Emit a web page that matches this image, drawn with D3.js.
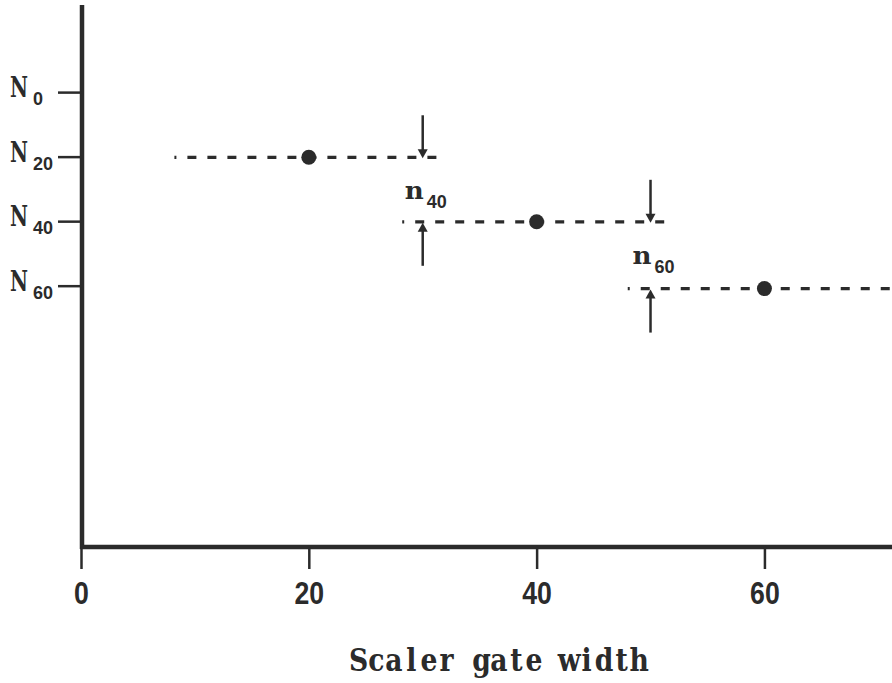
<!DOCTYPE html>
<html>
<head>
<meta charset="utf-8">
<script src="https://cdn.jsdelivr.net/npm/d3@7"></script>
<style>
  html, body { margin: 0; padding: 0; background: #fff; }
  svg { display: block; }
</style>
</head>
<body>
<svg id="chart" width="892" height="683"></svg>
<script>
// ---- data ----
const xTicks = [0, 20, 40, 60];
const yTickValues = [0, 20, 40, 60];
const yTickSubs = ["0", "20", "40", "60"];       // N subscripts
const pointX = [20, 40, 60];                      // gate widths
const pointY = [20.2, 40.2, 60.9];                // level for each gate
const segStart = [8.2, 28.2, 48.0];               // dashed segment extents
const segEnd = [32.1, 51.9, 75];
const arrowX = [30, 50];                          // n markers
const arrowFrom = [20.2, 40.2];                   // upper level
const arrowTo = [40.2, 60.9];                     // lower level
const arrowLabels = ["40", "60"];
const xLabel = "Scaler gate width";

const ink = "#2b2b2b";
const serifFont = "'DejaVu Serif', 'Liberation Serif', serif";
const sansFont = "'Liberation Sans', Arial, sans-serif";
const svg = d3.select("#chart");
const x = d3.scaleLinear().domain([0, 71.2]).range([81, 892]);
const y = d3.scaleLinear().domain([-27, 141]).range([5, 547]);

// axes lines
svg.append("line").attr("x1", x(0)+1).attr("x2", x(0)+1).attr("y1", y(-27)).attr("y2", y(141)+2)
  .attr("stroke", ink).attr("stroke-width", 4.5);
svg.append("line").attr("x1", x(0)-1).attr("x2", 892).attr("y1", y(141)).attr("y2", y(141))
  .attr("stroke", ink).attr("stroke-width", 4.5);

// x ticks
const xAxis = d3.axisBottom(x).tickValues(xTicks).tickSize(22).tickPadding(13).tickFormat(d3.format("d"));
const gx = svg.append("g").attr("transform", `translate(0,${y(141)})`).call(xAxis);
gx.select(".domain").remove();
gx.selectAll(".tick line").attr("stroke", ink).attr("stroke-width", 2.5);
gx.selectAll(".tick text").attr("fill", ink)
  .attr("transform", "scale(0.86,1)")
  .style("font-family", sansFont)
  .style("font-size", "31px").style("font-weight", "bold");

// y ticks
const yAxis = d3.axisLeft(y).tickValues(yTickValues).tickSize(24).tickFormat("");
const gy = svg.append("g").attr("transform", `translate(${x(0)+1},0)`).call(yAxis);
gy.select(".domain").remove();
gy.selectAll(".tick line").attr("stroke", ink).attr("stroke-width", 2.5);

// y tick labels: N with subscripts
yTickValues.forEach((v, i) => {
  svg.append("text").attr("x", 10).attr("y", y(v) + 5)
    .attr("fill", ink)
    .attr("textLength", 18).attr("lengthAdjust", "spacingAndGlyphs")
    .style("font-family", serifFont)
    .style("font-weight", "bold").style("font-size", "27px").text("N");
  svg.append("text").attr("x", 33).attr("y", y(v) + 13)
    .attr("fill", ink)
    .style("font-family", sansFont).style("font-weight", "bold")
    .style("font-size", "18px").text(yTickSubs[i]);
});

// dashed segments
pointX.forEach((px, i) => {
  svg.append("line")
    .attr("x1", x(segStart[i])).attr("x2", x(segEnd[i]))
    .attr("y1", y(pointY[i])).attr("y2", y(pointY[i]))
    .attr("stroke", ink).attr("stroke-width", 3.2)
    .attr("stroke-dasharray", "9,11").attr("stroke-dashoffset", 7);
});

// points
svg.selectAll("circle.pt").data(pointX).enter().append("circle")
  .attr("class", "pt")
  .attr("cx", d => x(d)).attr("cy", (d, i) => y(pointY[i]))
  .attr("r", 7.5).attr("fill", ink);

// arrows
function arrow(xp, yStart, yTip) {
  const dir = Math.sign(yTip - yStart);
  svg.append("line").attr("x1", xp).attr("x2", xp).attr("y1", yStart).attr("y2", yTip - dir*6)
    .attr("stroke", ink).attr("stroke-width", 2.5);
  svg.append("path")
    .attr("d", `M${xp-5},${yTip - dir*9} L${xp+5},${yTip - dir*9} L${xp},${yTip} Z`)
    .attr("fill", ink);
}
arrowX.forEach((ax, i) => {
  const yTop = y(arrowFrom[i]);
  const yBot = y(arrowTo[i]);
  arrow(x(ax), yTop - 42, yTop + 1);
  arrow(x(ax), yBot + 44, yBot + 1);
  const base = (yTop + yBot) / 2 + 9;
  svg.append("text").attr("x", x(ax) - 18).attr("y", base)
    .attr("fill", ink)
    .attr("textLength", 19).attr("lengthAdjust", "spacingAndGlyphs")
    .style("font-family", serifFont)
    .style("font-weight", "bold").style("font-size", "25px").text("n");
  svg.append("text").attr("x", x(ax) + 4).attr("y", base + 9)
    .attr("fill", ink)
    .style("font-family", sansFont).style("font-weight", "bold")
    .style("font-size", "18px").text(arrowLabels[i]);
});

// x label: typewriter-style fixed pitch
const titleLeft = 350, titlePitch = 298 / xLabel.length, sx = 0.86, titleSize = 31;
const chars = xLabel.split("");
const widths = chars.map(c => {
  const t = svg.append("text").style("font-family", serifFont).style("font-weight", "bold")
    .style("font-size", titleSize + "px").text(c === " " ? "a" : c);
  const w = t.node().getComputedTextLength();
  t.remove();
  return w;
});
const xs = chars.map((c, i) => (titleLeft + i * titlePitch + titlePitch / 2) / sx - widths[i] / 2);
svg.append("text")
  .attr("transform", `translate(0,671) scale(${sx},1)`)
  .attr("x", xs.map(v => v.toFixed(2)).join(" ")).attr("y", 0)
  .attr("fill", ink)
  .style("font-family", serifFont)
  .style("font-weight", "bold").style("font-size", titleSize + "px")
  .style("white-space", "pre")
  .text(xLabel);
</script>
</body>
</html>
